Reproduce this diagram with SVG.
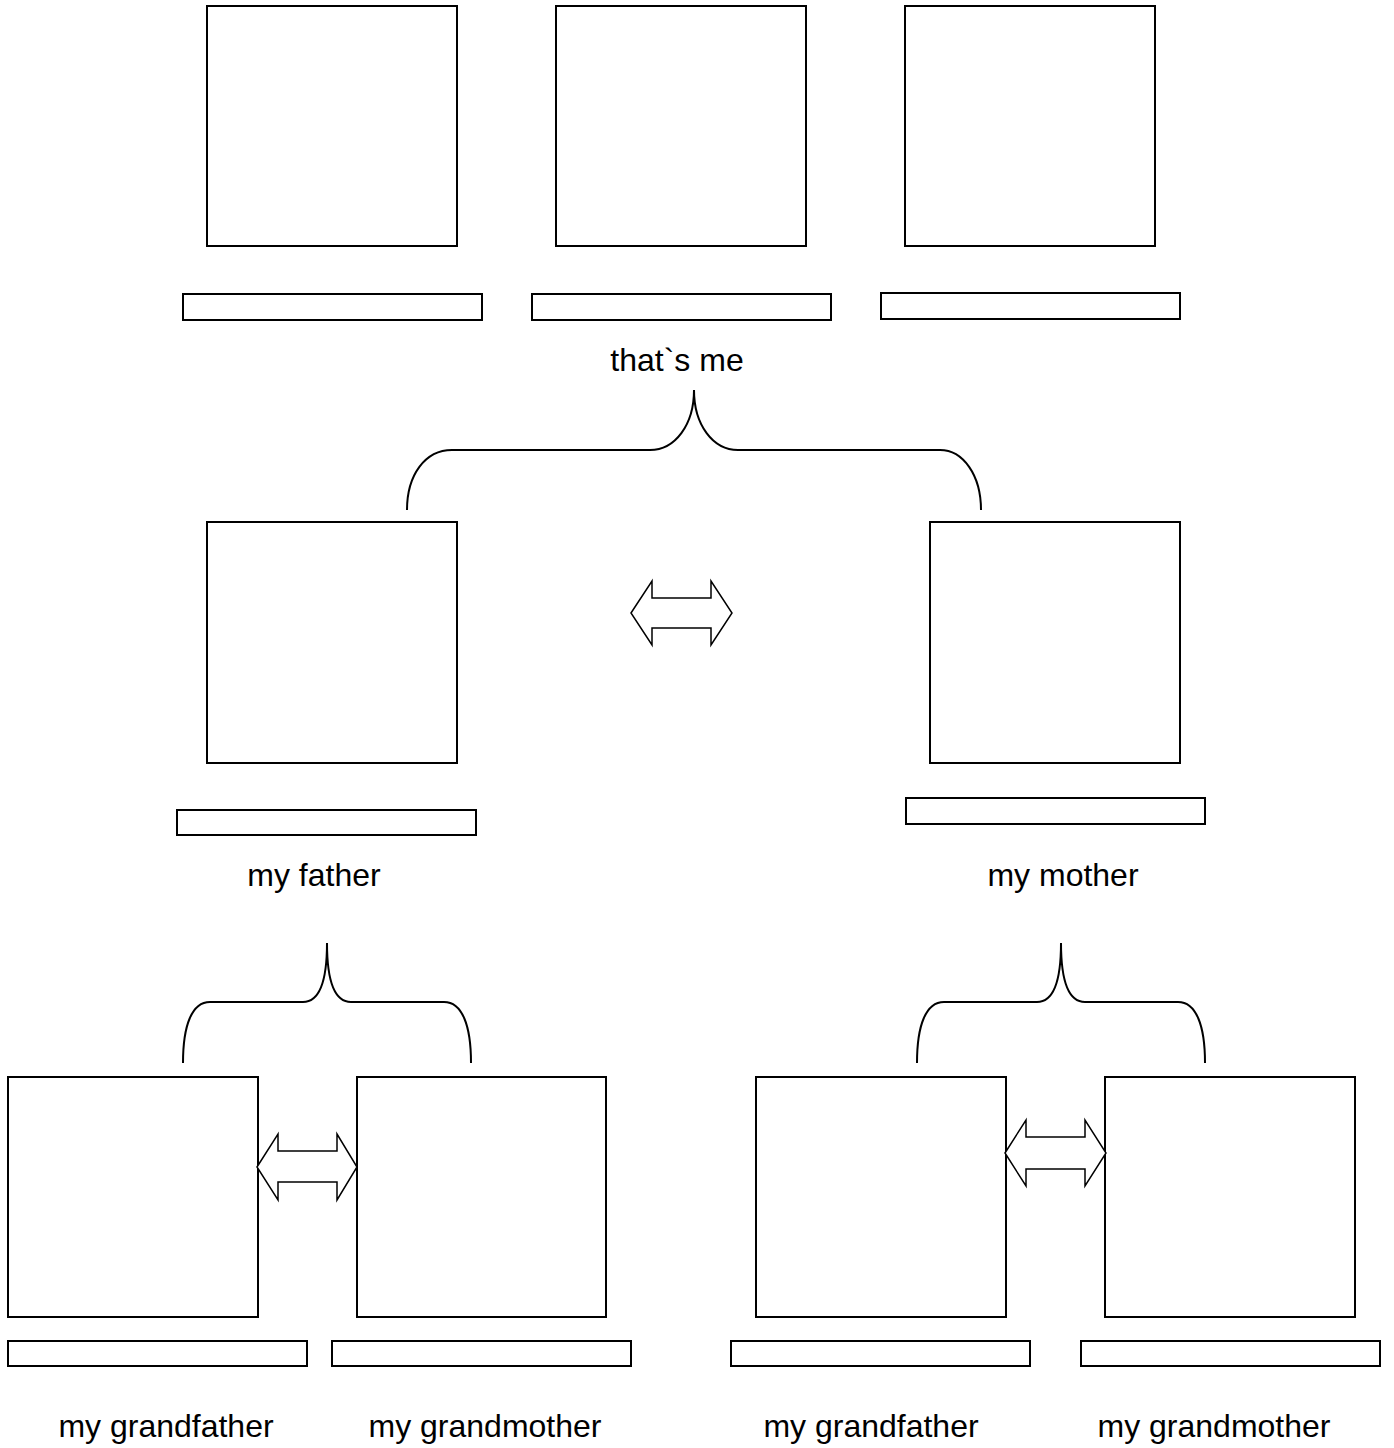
<svg xmlns="http://www.w3.org/2000/svg" width="1394" height="1448" viewBox="0 0 1394 1448">
<style>
.box{fill:#fff;stroke:#000;stroke-width:2}
.bar{fill:#fff;stroke:#000;stroke-width:2}
.lbl{font-family:"Liberation Sans",Arial,sans-serif;font-size:32px;fill:#000;text-anchor:middle}
.brace{fill:none;stroke:#000;stroke-width:2}
.arr{fill:#fff;stroke:#000;stroke-width:1.5;stroke-linejoin:miter}
</style>
<rect width="1394" height="1448" fill="#fff"/>
<g id="sibling1"><rect class="box" x="207" y="6" width="250" height="240"/><rect class="bar" x="183" y="294" width="299" height="26"/></g>
<g id="me"><rect class="box" x="556" y="6" width="250" height="240"/><rect class="bar" x="532" y="294" width="299" height="26"/><text class="lbl" x="677" y="371">that`s me</text></g>
<g id="sibling2"><rect class="box" x="905" y="6" width="250" height="240"/><rect class="bar" x="881" y="293" width="299" height="26"/></g>
<g id="father"><rect class="box" x="207" y="522" width="250" height="241"/><rect class="bar" x="177" y="810" width="299" height="25"/><text class="lbl" x="314" y="886">my father</text></g>
<g id="mother"><rect class="box" x="930" y="522" width="250" height="241"/><rect class="bar" x="906" y="798" width="299" height="26"/><text class="lbl" x="1063" y="886">my mother</text></g>
<g id="grandfather1"><rect class="box" x="8" y="1077" width="250" height="240"/><rect class="bar" x="8" y="1341" width="299" height="25"/><text class="lbl" x="166" y="1437">my grandfather</text></g>
<g id="grandmother1"><rect class="box" x="357" y="1077" width="249" height="240"/><rect class="bar" x="332" y="1341" width="299" height="25"/><text class="lbl" x="485" y="1437">my grandmother</text></g>
<g id="grandfather2"><rect class="box" x="756" y="1077" width="250" height="240"/><rect class="bar" x="731" y="1341" width="299" height="25"/><text class="lbl" x="871" y="1437">my grandfather</text></g>
<g id="grandmother2"><rect class="box" x="1105" y="1077" width="250" height="240"/><rect class="bar" x="1081" y="1341" width="299" height="25"/><text class="lbl" x="1214" y="1437">my grandmother</text></g>
<g id="connectors">
<path class="brace" d="M407,510 C407,475 425,450 452,450 L650,450 C675,450 694,425 694,390 C694,425 713,450 738,450 L940,450 C963,450 981,475 981,510"/>
<path class="brace" d="M183,1063 C183,1025 192,1002 210,1002 L303,1002 C318,1002 327,985 327,943 C327,985 336,1002 351,1002 L444,1002 C462,1002 471,1025 471,1063"/>
<path class="brace" d="M917,1063 C917,1025 926,1002 944,1002 L1037,1002 C1052,1002 1061,985 1061,943 C1061,985 1070,1002 1085,1002 L1178,1002 C1196,1002 1205,1025 1205,1063"/>
<path class="arr" d="M631,613 L652,581 L652,598 L711,598 L711,581 L732,613 L711,645 L711,628 L652,628 L652,645 Z"/>
<path class="arr" d="M257,1167 L278,1134 L278,1151 L337,1151 L337,1134 L357,1167 L337,1200 L337,1182 L278,1182 L278,1200 Z"/>
<path class="arr" d="M1005,1153 L1026,1120 L1026,1137 L1085,1137 L1085,1120 L1106,1153 L1085,1186 L1085,1169 L1026,1169 L1026,1186 Z"/>
</g>
</svg>
